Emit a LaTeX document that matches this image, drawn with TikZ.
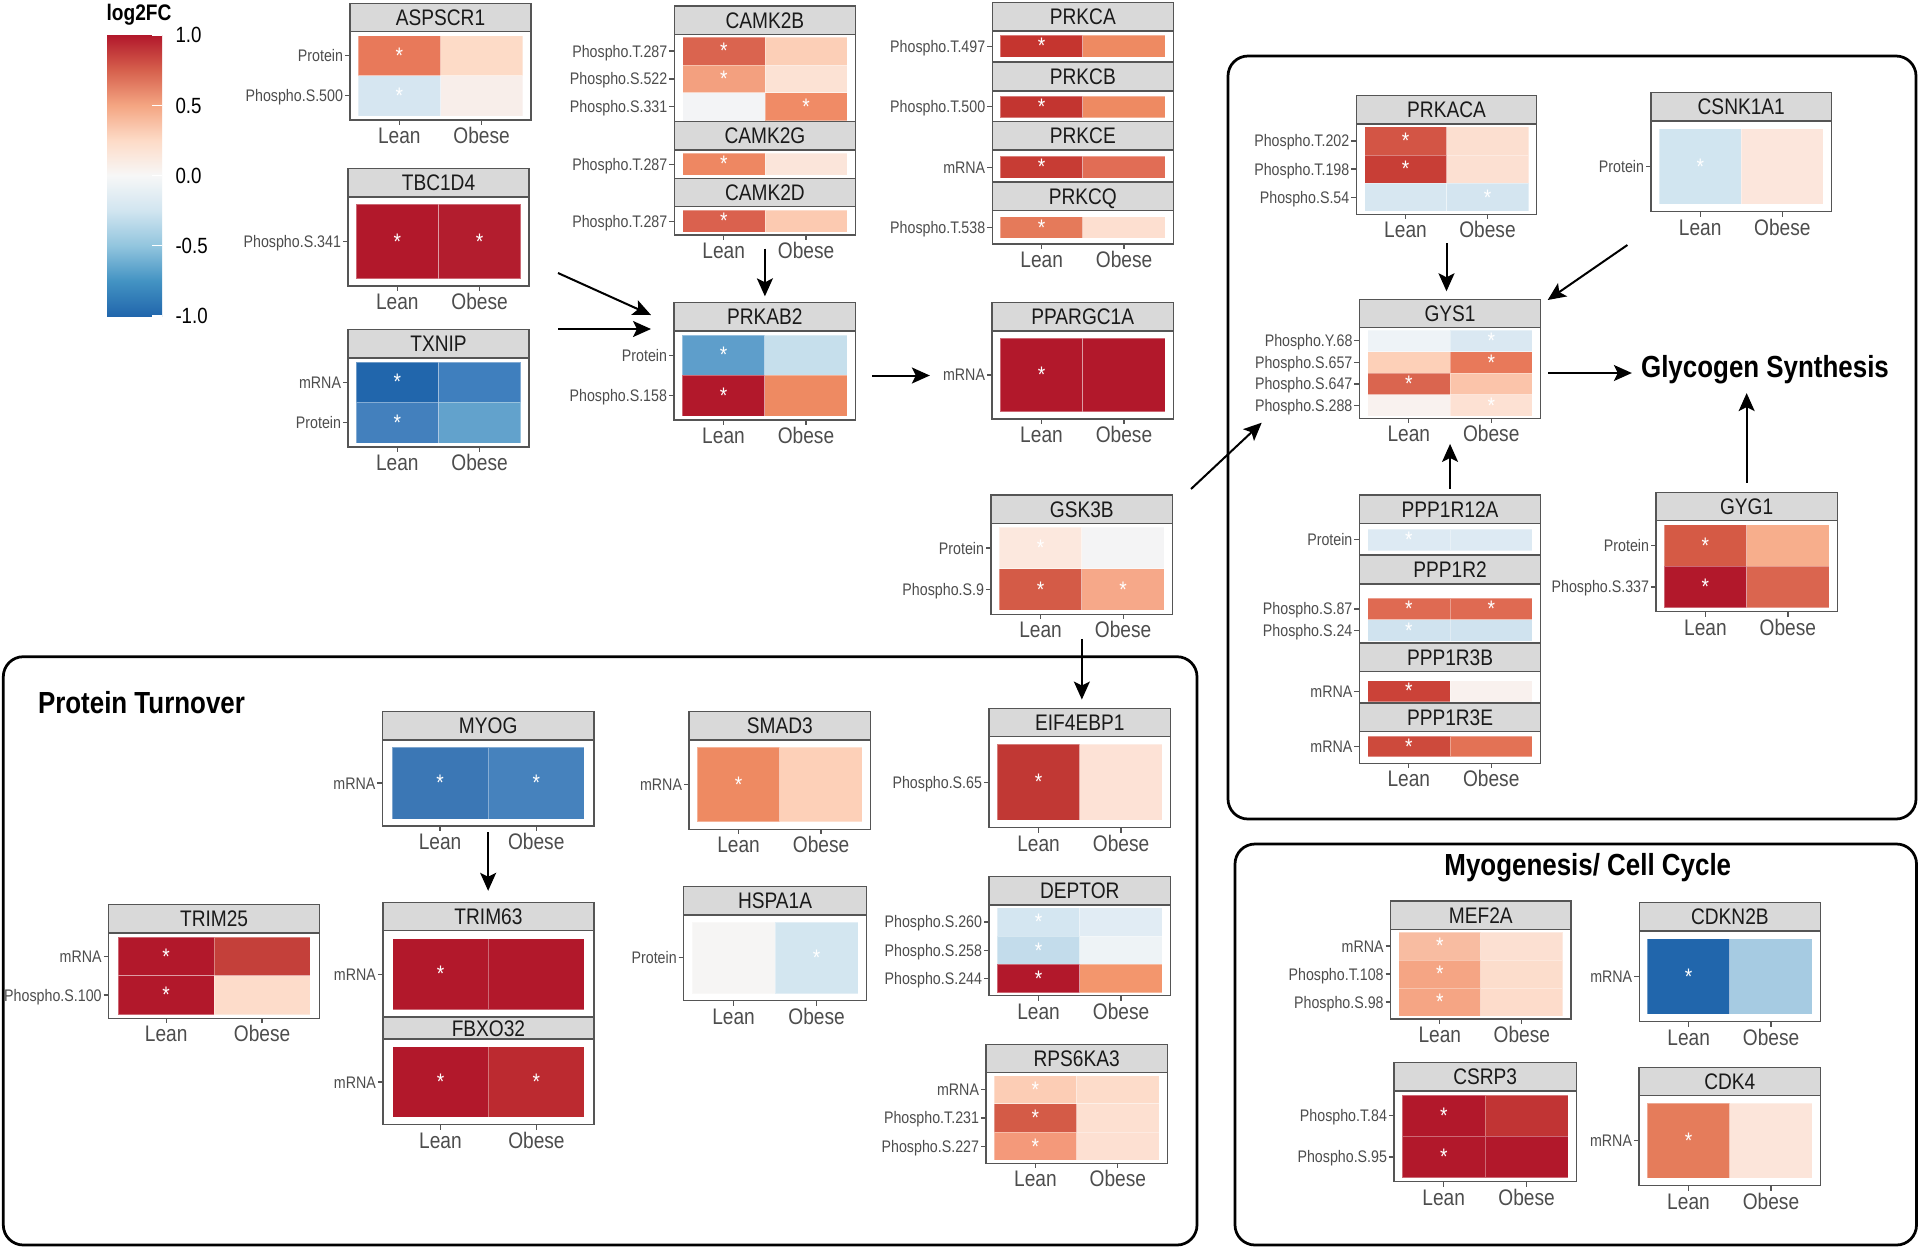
\documentclass[tikz,border=0pt]{standalone}
\usepackage{fontspec}
\setmainfont{Liberation Sans}[FakeStretch=0.85]
\usetikzlibrary{arrows.meta, positioning, fit}

\definecolor{stripfill}{HTML}{D9D9D9}
\definecolor{frame}{HTML}{555555}
\definecolor{axistext}{HTML}{4D4D4D}
\definecolor{striptext}{HTML}{1A1A1A}
% RdBu stops of the colour bar
\definecolor{bu4}{HTML}{2166AC}
\definecolor{bu3}{HTML}{4393C3}
\definecolor{bu2}{HTML}{92C5DE}
\definecolor{bu1}{HTML}{D1E5F0}
\definecolor{mid}{HTML}{F7F7F7}
\definecolor{rd1}{HTML}{FDDBC7}
\definecolor{rd2}{HTML}{F4A582}
\definecolor{rd3}{HTML}{D6604D}
\definecolor{rd4}{HTML}{B2182B}
\pgfdeclareverticalshading{rdbu}{100bp}{color(0bp)=(bu4); color(25bp)=(bu4);
  color(31.25bp)=(bu3); color(37.5bp)=(bu2); color(43.75bp)=(bu1); color(50bp)=(mid);
  color(56.25bp)=(rd1); color(62.5bp)=(rd2); color(68.75bp)=(rd3); color(75bp)=(rd4);
  color(100bp)=(rd4)}

\tikzset{
  stripbox/.style={draw=frame, fill=stripfill, line width=0.5pt, inner sep=0pt},
  panelbox/.style={draw=frame, fill=white, line width=0.5pt, inner sep=0pt},
  striplab/.style={font=\fontsize{9}{10}\selectfont, text=striptext, inner sep=0pt, text height=6.4pt, text depth=0pt},
  axislab/.style={font=\fontsize{9}{10}\selectfont, text=axistext, inner sep=0pt, text height=6.4pt, text depth=0pt},
  rowlab/.style={font=\fontsize{6.7}{8}\selectfont, text=axistext, inner sep=0pt, text height=4.8pt, text depth=0pt, anchor=east},
  leglab/.style={font=\fontsize{8.8}{10}\selectfont, inner sep=0pt, text height=6.3pt, text depth=0pt, anchor=west},
  sig/.style={font=\fontsize{9}{9}\selectfont, text=white, inner sep=0pt},
  axistick/.style={draw=frame, line width=0.5pt},
  hmtile/.style={draw=white, draw opacity=0.35, line width=0.3pt},
  groupbox/.style={draw=black, line width=1.1pt, rounded corners=8pt, inner sep=0pt},
  bigtitle/.style={font=\bfseries\fontsize{12.2}{14}\selectfont, inner sep=0pt, text height=8.7pt, text depth=0pt},
  flow/.style={-{Stealth[length=7.2pt,width=6.4pt,inset=1.6pt]}, line width=0.8pt},
}

\newcommand{\striph}{28.3}
% #1 name, #2 title, #3 x0, #4 x1, #5 box top, #6 box bottom, #7 tile top, #8 row height, #9 rows
\newcommand{\heatpanel}[9]{%
  \node[stripbox, fit={(#3,#5-\striph) (#4,#5)}] (#1-h) {};
  \node[striplab] (#1-t) at (#1-h.center) {#2};
  \node[panelbox, fit={(#3,#5) (#4,#6)}] (#1) {};
  \pgfmathsetmacro{\tw}{(#4-#3)/2.2}
  \pgfmathsetmacro{\xa}{#3+0.1*\tw}
  \foreach \lab/\cola/\siga/\colb/\sigb [count=\rr from 0] in {#9}{
    \pgfmathsetmacro{\ya}{#7+\rr*#8}
    \pgfmathsetmacro{\yc}{\ya+0.5*#8}
    \definecolor{tileL}{HTML}{\cola}
    \definecolor{tileR}{HTML}{\colb}
    \filldraw[hmtile, fill=tileL] (\xa,\ya) rectangle ++(\tw,#8);
    \filldraw[hmtile, fill=tileR] (\xa+\tw,\ya) rectangle ++(\tw,#8);
    \ifnum\siga=1 \node[sig] (#1-a\rr) at (\xa+0.5*\tw,\yc) {*};\fi
    \ifnum\sigb=1 \node[sig] (#1-b\rr) at (\xa+1.5*\tw,\yc) {*};\fi
    \draw[axistick] (#3-5,\yc) -- (#3,\yc);
    \node[rowlab] (#1-r\rr) at (#3-6.5,\yc) {\lab};
  }
}
% #1 name, #2 x0, #3 x1, #4 box bottom
\newcommand{\xaxis}[4]{%
  \pgfmathsetmacro{\tw}{(#3-#2)/2.2}
  \draw[axistick] (#2+0.6*\tw,#4) -- ++(0,5);
  \draw[axistick] (#2+1.6*\tw,#4) -- ++(0,5);
  \node[axislab] (#1-lean) at (#2+0.6*\tw,#4+15.5) {Lean};
  \node[axislab] (#1-obese) at (#2+1.6*\tw,#4+15.5) {Obese};
}

\begin{document}
\begin{tikzpicture}[x=0.4pt, y=-0.4pt]
\path[use as bounding box, fill=white] (0,0) rectangle (1920,1248);

% group frames
\node[groupbox, fit={(3.3,656.7) (1197,1245)}] (turnover) {};
\node[groupbox, fit={(1228,56) (1916,819)}] (glycogen) {};
\node[groupbox, fit={(1235,844) (1916.5,1245)}] (myogenesis) {};
\node[bigtitle, anchor=west] (turnover-t) at (37.5,702.7) {Protein Turnover};
\node[bigtitle] (myogenesis-t) at (1587.8,865) {Myogenesis/ Cell Cycle};
\node[bigtitle] (glysynth) at (1765,366.7) {Glycogen Synthesis};

% colour bar
\node[font=\bfseries\fontsize{9}{10}\selectfont, inner sep=0pt, text height=6.4pt, text depth=0pt] (legtitle) at (139,12) {log2FC};
\shade[shading=rdbu] (107,35) rectangle (162,316);
\foreach \v/\yy [count=\i] in {1.0/35, 0.5/105.25, 0.0/175.5, -0.5/245.75, -1.0/316}{
  \draw[white, line width=0.5pt] (152,\yy) -- (162,\yy);
  \node[leglab] (leg\i) at (175,\yy) {\v};
}

% upstream kinases
\heatpanel{aspscr1}{ASPSCR1}{350}{531}{31.7}{120}{35.7}{40.1}{Protein/E8795A/1/FDDBC7/0, Phospho.S.500/D6E6F1/1/F8EEEA/0}
\xaxis{aspscr1}{350}{531}{120}
\heatpanel{tbc1d4}{TBC1D4}{348}{529}{197}{286}{204.4}{74.2}{Phospho.S.341/B2182B/1/B31D2E/1}
\xaxis{tbc1d4}{348}{529}{286}
\heatpanel{txnip}{TXNIP}{348}{529}{358}{447}{362}{40.45}{mRNA/2166AC/1/3F7FBE/0, Protein/4380BD/1/62A2CC/0}
\xaxis{txnip}{348}{529}{447}

\heatpanel{camk2b}{CAMK2B}{674.3}{855.5}{34.3}{121.7}{37.2}{27.8}{Phospho.T.287/DA644F/1/FCCFB7/0, Phospho.S.522/F3A07F/1/FCE2D4/0, Phospho.S.331/F3F4F6/0/F08B66/1}
\heatpanel{camk2g}{CAMK2G}{674.3}{855.5}{150}{179}{153.3}{21.7}{Phospho.T.287/EE8762/1/FBE5DA/0}
\heatpanel{camk2d}{CAMK2D}{674.3}{855.5}{206.7}{235}{210}{22.3}{Phospho.T.287/DA614E/1/FCCAB1/0}
\xaxis{camk2d}{674.3}{855.5}{235}
\heatpanel{prkab2}{PRKAB2}{674}{855.5}{331}{420}{335}{40.45}{Protein/5E9ECB/1/C6DFEC/0, Phospho.S.158/B2182B/1/EE8A62/0}
\xaxis{prkab2}{674}{855.5}{420}

\heatpanel{prkca}{PRKCA}{992.2}{1173.5}{31}{61.7}{35}{22.3}{Phospho.T.497/C5352F/1/EE8A62/0}
\heatpanel{prkcb}{PRKCB}{992.2}{1173.5}{91}{121.7}{96}{21.7}{Phospho.T.500/C33530/1/EE8A62/0}
\heatpanel{prkce}{PRKCE}{992.2}{1173.5}{150}{181.7}{156}{22.3}{mRNA/C73C34/1/E16D55/0}
\heatpanel{prkcq}{PRKCQ}{992.2}{1173.5}{210.7}{244}{216.7}{21.7}{Phospho.T.538/E57A5A/1/FDDFD0/0}
\xaxis{prkcq}{992.2}{1173.5}{244}
\heatpanel{ppargc1a}{PPARGC1A}{992}{1173.5}{331}{419}{338.3}{73.3}{mRNA/B2182B/1/B2182B/0}
\xaxis{ppargc1a}{992}{1173.5}{419}
\heatpanel{gsk3b}{GSK3B}{991}{1172.7}{523.3}{614.3}{527.4}{41.4}{Protein/FCE8DE/1/F4F4F5/0, Phospho.S.9/D45B47/1/F6A889/1}
\xaxis{gsk3b}{991}{1172.7}{614.3}

% glycogen synthesis
\heatpanel{prkaca}{PRKACA}{1356.3}{1536.7}{124}{214.3}{126.8}{28.2}{Phospho.T.202/D35545/1/FCDFD0/0, Phospho.T.198/C83E36/1/FCE0D2/0, Phospho.S.54/D7E7F1/0/D4E5F0/1}
\xaxis{prkaca}{1356.3}{1536.7}{214.3}
\heatpanel{csnk1a1}{CSNK1A1}{1651}{1831.5}{121}{211.7}{128.6}{75.6}{Protein/D1E5F0/1/FCE6DC/0}
\xaxis{csnk1a1}{1651}{1831.5}{211.7}
\heatpanel{gys1}{GYS1}{1359.4}{1540.7}{327.7}{418.3}{329.9}{21.6}{Phospho.Y.68/EEF3F7/0/DAE8F2/1, Phospho.S.657/FDD0B8/0/E8795A/1, Phospho.S.647/DA654F/1/FBC4AA/0, Phospho.S.288/F9F2EF/0/FDE1D3/1}
\xaxis{gys1}{1359.4}{1540.7}{418.3}
\heatpanel{ppp1r12a}{PPP1R12A}{1359.4}{1540.7}{523.3}{555}{529}{21.7}{Protein/DDEAF3/1/DDEAF3/0}
\heatpanel{ppp1r2}{PPP1R2}{1359.4}{1540.7}{584}{642.7}{598.3}{21.35}{Phospho.S.87/DF6A52/1/DF6A52/1, Phospho.S.24/D0E3EF/1/D0E3EF/0}
\heatpanel{ppp1r3b}{PPP1R3B}{1359.4}{1540.7}{671.7}{702.7}{680.7}{21}{mRNA/CB4238/1/F9F1EE/0}
\heatpanel{ppp1r3e}{PPP1R3E}{1359.4}{1540.7}{731.7}{763.3}{736}{20.7}{mRNA/CD4A3C/1/E37255/0}
\xaxis{ppp1r3e}{1359.4}{1540.7}{763.3}
\heatpanel{gyg1}{GYG1}{1656}{1837.3}{520.7}{611.7}{524.8}{41.4}{Protein/D55A45/1/F7AE8C/0, Phospho.S.337/B2182B/1/DA654F/0}
\xaxis{gyg1}{1656}{1837.3}{611.7}

% protein turnover
\heatpanel{myog}{MYOG}{382.4}{593.9}{740}{826}{747.2}{71.7}{mRNA/3B77B5/1/4682BD/1}
\xaxis{myog}{382.4}{593.9}{826}
\heatpanel{trim25}{TRIM25}{108.6}{319.6}{933}{1018.3}{936.9}{38.8}{mRNA/B2182B/1/C4403A/0, Phospho.S.100/B2182B/1/FDDCCA/0}
\xaxis{trim25}{108.6}{319.6}{1018.3}
\heatpanel{trim63}{TRIM63}{382.9}{594}{930.7}{1016.7}{938.7}{71}{mRNA/B2182B/1/B2182B/0}
\renewcommand{\striph}{22}
\heatpanel{fbxo32}{FBXO32}{382.9}{594}{1039}{1124.7}{1046.7}{70.6}{mRNA/B2182B/1/BC2A30/1}
\renewcommand{\striph}{28.3}
\xaxis{fbxo32}{382.9}{594}{1124.7}
\heatpanel{smad3}{SMAD3}{689}{870.6}{740}{829.3}{747.4}{74.4}{mRNA/EE8A62/1/FDD0B8/0}
\xaxis{smad3}{689}{870.6}{829.3}
\heatpanel{hspa1a}{HSPA1A}{683.7}{866.5}{915}{1000.7}{922.1}{71.4}{Protein/F6F5F4/0/D3E6F0/1}
\xaxis{hspa1a}{683.7}{866.5}{1000.7}
\heatpanel{eif4ebp1}{EIF4EBP1}{989}{1170.6}{736.7}{827.7}{744.3}{75.8}{Phospho.S.65/C13834/1/FDE2D6/0}
\xaxis{eif4ebp1}{989}{1170.6}{827.7}
\heatpanel{deptor}{DEPTOR}{989}{1170.6}{905}{995.7}{907.8}{28.3}{Phospho.S.260/D4E6F1/1/E1ECF4/0, Phospho.S.258/C3DCEB/1/EEF3F6/0, Phospho.S.244/B2182B/1/F3966D/0}
\xaxis{deptor}{989}{1170.6}{995.7}
\heatpanel{rps6ka3}{RPS6KA3}{986}{1167.3}{1072.7}{1163.3}{1075.5}{28.3}{mRNA/FCCDB5/1/FDDCCA/0, Phospho.T.231/D45B47/1/FDE0D1/0, Phospho.S.227/F4997A/1/FDE0D2/0}
\xaxis{rps6ka3}{986}{1167.3}{1163.3}

% myogenesis / cell cycle
\heatpanel{mef2a}{MEF2A}{1390.6}{1571}{929.3}{1019}{932.1}{28}{mRNA/F8BCA1/1/FCE0D2/0, Phospho.T.108/F5A584/1/FCDDCC/0, Phospho.S.98/F5A584/1/FDDCCB/0}
\xaxis{mef2a}{1390.6}{1571}{1019}
\heatpanel{cdkn2b}{CDKN2B}{1639.2}{1820.5}{931}{1021.7}{938.6}{75.6}{mRNA/2166AC/1/A6CBE2/0}
\xaxis{cdkn2b}{1639.2}{1820.5}{1021.7}
\heatpanel{csrp3}{CSRP3}{1394}{1576.3}{1091}{1181.7}{1095.1}{41.2}{Phospho.T.84/B2182B/1/C13434/0, Phospho.S.95/B2182B/1/B2182B/0}
\xaxis{csrp3}{1394}{1576.3}{1181.7}
\heatpanel{cdk4}{CDK4}{1639}{1820.5}{1095.7}{1185.7}{1103.2}{75}{mRNA/E57C5B/1/FCE5DA/0}
\xaxis{cdk4}{1639}{1820.5}{1185.7}

% arrow ends that sit in open space
\coordinate (tbc-out) at (558,273);
\coordinate (ampk-in1) at (651,315);
\coordinate (txnip-out) at (558,329);
\coordinate (ampk-in2) at (651,329);
\coordinate (gsk-out) at (1191,489);
\coordinate (gys-in1) at (1261.7,422.7);
\coordinate (csnk-out) at (1627.4,245);
\coordinate (gys-in2) at (1547.7,300);

\draw[flow] (tbc-out) -- (ampk-in1);
\draw[flow] (txnip-out) -- (ampk-in2);
\draw[flow, shorten <=5.2pt, shorten >=2.3pt] (camk2d.south) -- (camk2d.south |- prkab2-h.north);
\draw[flow, shorten <=6.4pt, shorten >=24.6pt] (prkab2.east) -- (prkab2.east -| ppargc1a.west);
\draw[flow] (gsk-out) -- (gys-in1);
\draw[flow, shorten <=9.6pt, shorten >=3.3pt] (gsk3b.south) -- (gsk3b.south |- eif4ebp1-h.north);
\draw[flow, shorten <=11.4pt, shorten >=3pt] (prkaca.south) -- (prkaca.south |- gys1-h.north);
\draw[flow] (csnk-out) -- (gys-in2);
\draw[flow, shorten <=2.8pt, shorten >=3.5pt] (gys1.east) -- (gys1.east -| glysynth.west);
\draw[flow, shorten <=2.3pt, shorten >=10pt] (ppp1r12a-h.north) -- (ppp1r12a-h.north |- gys1.south);
\draw[flow, shorten <=3.6pt, shorten >=6pt] (gyg1-h.north) -- (gyg1-h.north |- glysynth.south);
\draw[flow, shorten <=2.3pt, shorten >=4.4pt] (myog.south) -- (myog.south |- trim63-h.north);
\end{tikzpicture}
\end{document}
